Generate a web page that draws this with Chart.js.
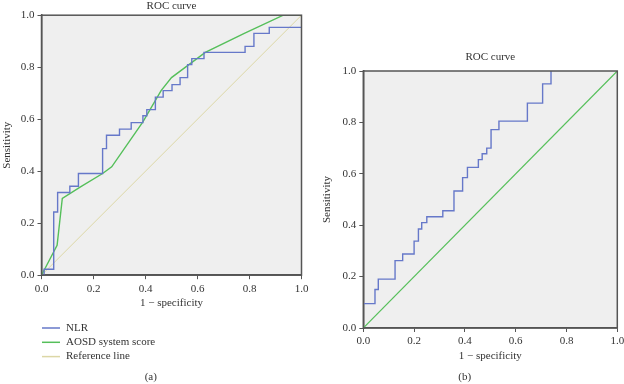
<!DOCTYPE html>
<html>
<head>
<meta charset="utf-8">
<script src="https://cdn.jsdelivr.net/npm/chart.js@4"></script>
<style>
  html, body { margin: 0; padding: 0; background: #fff; overflow: hidden; width: 624px; height: 384px; }
  canvas { position: absolute; top: 0; }
  #rocA { left: 0; }
  #rocB { left: 312px; }
</style>
</head>
<body>
<canvas id="rocA" width="312" height="384"></canvas>
<canvas id="rocB" width="322" height="384"></canvas>
<script>
// (a) step points of the NLR curve: x = where the step happens, y = new sensitivity
const nlrAX = [0, 0.01, 0.047, 0.062, 0.109, 0.142, 0.235, 0.25, 0.3, 0.345, 0.39, 0.405, 0.438, 0.468, 0.502, 0.533, 0.562, 0.578, 0.625, 0.783, 0.817, 0.876, 1.0];
const nlrAY = [0, 0.023, 0.243, 0.318, 0.342, 0.391, 0.487, 0.538, 0.562, 0.587, 0.613, 0.637, 0.685, 0.71, 0.733, 0.76, 0.81, 0.833, 0.857, 0.88, 0.93, 0.953, 0.953];
// (a) AOSD system score curve
const aosdX = [0, 0.06, 0.08, 0.15, 0.235, 0.27, 0.39, 0.46, 0.5, 0.63, 0.78, 0.93, 1.0];
const aosdY = [0, 0.115, 0.295, 0.34, 0.391, 0.417, 0.59, 0.71, 0.76, 0.857, 0.93, 1.0, 1.0];
// (b) NLR curve
const nlrBX = [0, 0.046, 0.059, 0.125, 0.155, 0.2, 0.217, 0.23, 0.25, 0.313, 0.357, 0.391, 0.41, 0.453, 0.468, 0.486, 0.503, 0.534, 0.646, 0.706, 0.739];
const nlrBY = [0.095, 0.15, 0.19, 0.262, 0.288, 0.338, 0.385, 0.41, 0.433, 0.456, 0.533, 0.585, 0.625, 0.655, 0.678, 0.7, 0.772, 0.805, 0.875, 0.95, 1.0];
// diagonal reference
const refX = [0, 1];
const refY = [0, 1];

const ticks = [0, 0.2, 0.4, 0.6, 0.8, 1.0];

const toPoints = (xs, ys) => xs.map((x, i) => ({ x, y: ys[i] }));

Chart.defaults.font.family = "'Liberation Serif', 'DejaVu Serif', serif";
Chart.defaults.color = '#333';

const frame = {
  id: 'frame',
  beforeDraw(chart) {
    const { ctx, chartArea: a } = chart;
    ctx.save();
    ctx.fillStyle = '#efefef';
    ctx.fillRect(a.left, a.top, a.width, a.height);
    ctx.restore();
  },
  afterDraw(chart) {
    const { ctx, chartArea: a } = chart;
    ctx.save();
    ctx.strokeStyle = '#555';
    ctx.lineWidth = 1.5;
    ctx.strokeRect(a.left, a.top, a.width, a.height);
    ctx.restore();
  },
};

// simple stacked legend under the x axis
const stackLegend = {
  id: 'stackLegend',
  afterDraw(chart, args, opts) {
    if (!opts.show) return;
    const { ctx } = chart;
    ctx.save();
    ctx.font = "11px 'Liberation Serif', serif";
    ctx.textBaseline = 'middle';
    chart.data.datasets.forEach((ds, i) => {
      const y = opts.top + i * 14.3;
      ctx.strokeStyle = ds.borderColor;
      ctx.lineWidth = 1.5;
      ctx.beginPath();
      ctx.moveTo(opts.left, y);
      ctx.lineTo(opts.left + 18, y);
      ctx.stroke();
      ctx.fillStyle = '#333';
      ctx.fillText(ds.label, opts.left + 24, y);
    });
    ctx.restore();
  },
};

function axis(title, size, titlePad) {
  return {
    type: 'linear',
    min: 0,
    max: 1,
    afterBuildTicks: (s) => { s.ticks = ticks.map((v) => ({ value: v })); },
    ticks: { callback: (v) => v.toFixed(1), font: { size: 11 }, color: '#333', padding: 3 },
    grid: { drawOnChartArea: false, drawTicks: true, tickLength: 4, color: '#555' },
    border: { color: '#555', width: 1.5 },
    title: { display: true, text: title, font: { size: 11 }, color: '#333', padding: titlePad },
    afterFit: size,
  };
}

function build(id, cfg) {
  return new Chart(document.getElementById(id), {
    type: 'line',
    data: { datasets: cfg.datasets },
    options: {
      responsive: false,
      animation: false,
      layout: { padding: cfg.padding },
      elements: { point: { radius: 0 } },
      scales: {
        x: axis('1 \u2212 specificity', (s) => { s.height = 37; }, { top: 0, bottom: 2 }),
        y: axis('Sensitivity', (s) => { s.width = cfg.yWidth; }, { top: cfg.yTitlePad, bottom: 0 }),
      },
      plugins: {
        legend: { display: false },
        tooltip: { enabled: false },
        title: {
          display: true, text: 'ROC curve', fullSize: false, color: '#333',
          font: { size: 11, weight: 'normal' }, padding: cfg.titlePad,
        },
        subtitle: {
          display: true, text: cfg.tag, position: 'bottom', color: '#333',
          font: { size: 11 }, padding: { top: cfg.tagPad, bottom: 0 },
        },
        stackLegend: cfg.legend,
      },
    },
    plugins: [frame, stackLegend],
  });
}

build('rocA', {
  tag: '(a)',
  padding: { left: 0, right: 10.5, top: 0, bottom: 0 },
  yWidth: 41.5,
  yTitlePad: 1,
  titlePad: { top: 0, bottom: 2 },
  tagPad: 58.6,
  legend: { show: true, left: 42, top: 328 },
  datasets: [
    { label: 'NLR', data: toPoints(nlrAX, nlrAY), borderColor: '#6678c9', borderWidth: 1.4, stepped: 'before' },
    { label: 'AOSD system score', data: toPoints(aosdX, aosdY), borderColor: '#55bf5a', borderWidth: 1.4 },
    { label: 'Reference line', data: toPoints(refX, refY), borderColor: '#dcd7a6', borderWidth: 1 },
  ],
});

build('rocB', {
  tag: '(b)',
  padding: { left: 0, right: 16.7, top: 0, bottom: 0 },
  yWidth: 51.3,
  yTitlePad: 9,
  titlePad: { top: 50.4, bottom: 7.4 },
  tagPad: 5.8,
  legend: { show: false },
  datasets: [
    { label: 'NLR', data: toPoints(nlrBX, nlrBY), borderColor: '#6678c9', borderWidth: 1.4, stepped: 'before' },
    { label: 'Reference line', data: toPoints(refX, refY), borderColor: '#55bf5a', borderWidth: 1.2 },
  ],
});
</script>
</body>
</html>
